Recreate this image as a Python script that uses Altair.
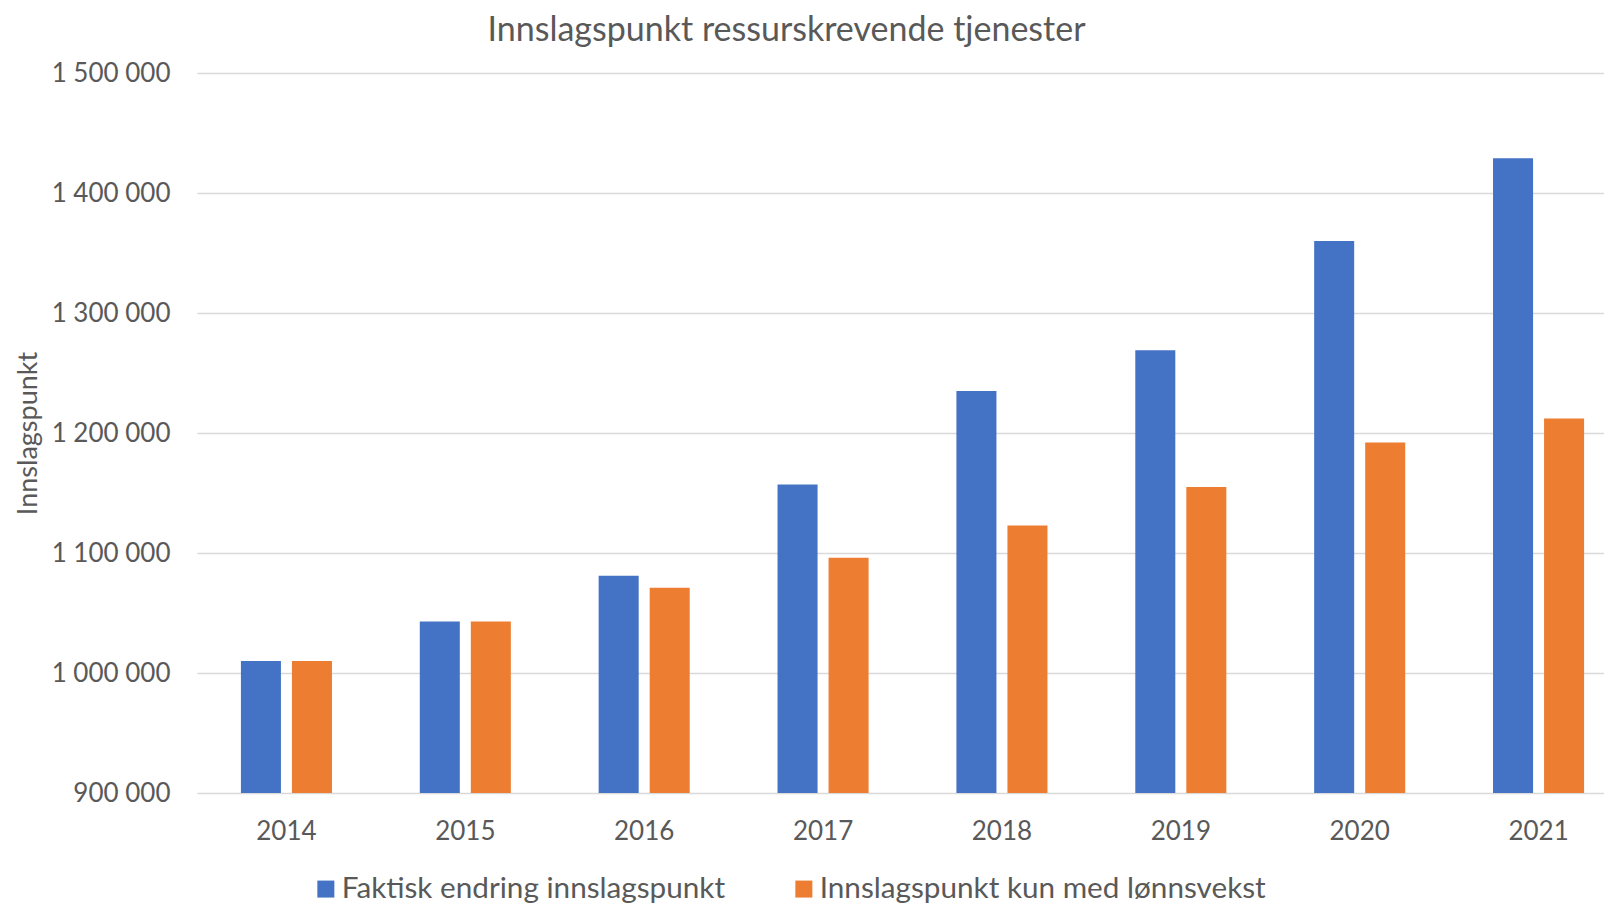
import altair as alt
import pandas as pd

years = ["2014", "2015", "2016", "2017", "2018", "2019", "2020", "2021"]
series_names = ["Faktisk endring innslagspunkt", "Innslagspunkt kun med lønnsvekst"]
faktisk = [1010000, 1043000, 1081000, 1157000, 1235000, 1269000, 1360000, 1429000]
lonnsvekst = [1010000, 1043000, 1071000, 1096000, 1123000, 1155000, 1192000, 1212000]
colors = ["#4472C4", "#ED7D31"]
y_ticks = [900000, 1000000, 1100000, 1200000, 1300000, 1400000, 1500000]

rows = []
for i, yr in enumerate(years):
    rows.append({"År": yr, "Serie": series_names[0], "Verdi": faktisk[i]})
    rows.append({"År": yr, "Serie": series_names[1], "Verdi": lonnsvekst[i]})
df = pd.DataFrame(rows)

FONT = "Lato"
GREY = "#595959"

chart = alt.Chart(df).mark_bar(clip=True).encode(
    x=alt.X("År:N", sort=years,
            scale=alt.Scale(range=[0, 1431], paddingInner=0.491, paddingOuter=0.2455),
            axis=alt.Axis(title=None, labelAngle=0, labelFontSize=26, labelFont=FONT,
                          labelColor=GREY, ticks=False, tickSize=0, domain=False,
                          labelPadding=38, labelBaseline="middle", grid=False)),
    xOffset=alt.XOffset("Serie:N", sort=series_names,
                        scale=alt.Scale(paddingInner=0.2157, paddingOuter=0)),
    y=alt.Y("Verdi:Q",
            scale=alt.Scale(domain=[900000, 1500000], zero=False, nice=False),
            axis=alt.Axis(title="Innslagspunkt", values=y_ticks,
                          labelExpr="replace(format(datum.value, ',d'), /,/g, ' ')",
                          labelFontSize=26, labelFont=FONT, labelColor=GREY,
                          ticks=False, tickSize=0, domain=False, labelPadding=27,
                          gridColor="#d9d9d9", gridWidth=1.5,
                          titleFont=FONT, titleFontSize=27, titleColor=GREY,
                          titleFontWeight="normal", titleAngle=270,
                          titleX=-169, titleY=360, titleAlign="center",
                          titleBaseline="middle")),
    color=alt.Color("Serie:N", sort=series_names,
                    scale=alt.Scale(domain=series_names, range=colors),
                    legend=alt.Legend(title=None, orient="none", direction="horizontal",
                                      legendX=114, legendY=801, symbolType="square",
                                      symbolSize=289, symbolStrokeWidth=0,
                                      labelFont=FONT, labelFontSize=29.7, labelColor=GREY,
                                      labelOffset=1, columnPadding=63, labelLimit=700)),
).properties(
    width=1407,
    height=720,
    autosize=alt.AutoSizeParams(type="none"),
    padding={"left": 189, "top": 65, "right": 0, "bottom": 112},
    title=alt.TitleParams("Innslagspunkt ressurskrevende tjenester", font=FONT,
                          fontSize=34, fontWeight="normal", color=GREY,
                          anchor="middle", frame="group", baseline="middle",
                          offset=0, dx=-114, dy=5),
).configure_view(stroke=None)

chart.save("out.html", embed_options={"renderer": "svg", "actions": False})
